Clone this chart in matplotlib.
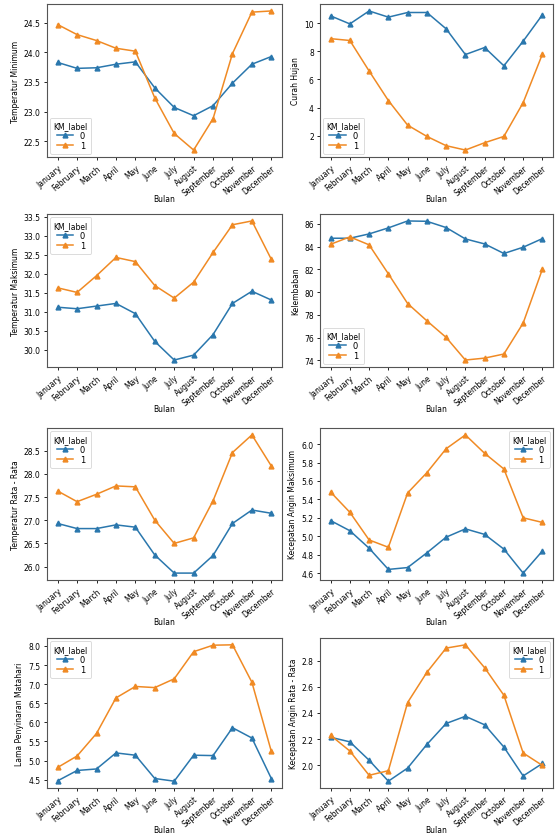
import matplotlib
matplotlib.use('Agg')
import matplotlib.pyplot as plt
from matplotlib.ticker import MultipleLocator

months = ['January', 'February', 'March', 'April', 'May', 'June', 'July',
          'August', 'September', 'October', 'November', 'December']

tmin_0 = [23.83, 23.73, 23.74, 23.80, 23.84, 23.40, 23.07, 22.93, 23.10, 23.48, 23.80, 23.93]
tmin_1 = [24.47, 24.30, 24.20, 24.07, 24.02, 23.23, 22.63, 22.35, 22.88, 23.98, 24.68, 24.70]

hujan_0 = [10.52, 9.95, 10.87, 10.43, 10.76, 10.76, 9.60, 7.77, 8.27, 6.97, 8.72, 10.60]
hujan_1 = [8.90, 8.77, 6.60, 4.50, 2.75, 1.95, 1.29, 0.98, 1.50, 1.95, 4.35, 7.80]

tmax_0 = [31.12, 31.08, 31.15, 31.22, 30.95, 30.22, 29.73, 29.86, 30.40, 31.22, 31.54, 31.31]
tmax_1 = [31.63, 31.51, 31.95, 32.43, 32.32, 31.69, 31.36, 31.78, 32.56, 33.29, 33.39, 32.38]

lembab_0 = [84.74, 84.74, 85.12, 85.65, 86.26, 86.23, 85.68, 84.68, 84.24, 83.40, 83.95, 84.71]
lembab_1 = [84.21, 84.86, 84.16, 81.61, 79.00, 77.48, 76.02, 74.03, 74.20, 74.56, 77.28, 82.02]

trata_0 = [26.93, 26.82, 26.82, 26.90, 26.85, 26.25, 25.86, 25.86, 26.24, 26.93, 27.22, 27.15]
trata_1 = [27.63, 27.40, 27.56, 27.74, 27.72, 27.00, 26.50, 26.62, 27.42, 28.46, 28.84, 28.17]

anginmax_0 = [5.17, 5.06, 4.87, 4.64, 4.66, 4.82, 4.99, 5.08, 5.02, 4.86, 4.60, 4.84]
anginmax_1 = [5.48, 5.26, 4.96, 4.88, 5.47, 5.69, 5.95, 6.10, 5.90, 5.73, 5.20, 5.15]

sinar_0 = [4.47, 4.74, 4.78, 5.20, 5.14, 4.53, 4.46, 5.14, 5.13, 5.86, 5.59, 4.53]
sinar_1 = [4.82, 5.12, 5.71, 6.64, 6.94, 6.91, 7.14, 7.85, 8.02, 8.03, 7.05, 5.24]

anginrata_0 = [2.215, 2.18, 2.04, 1.88, 1.98, 2.16, 2.32, 2.375, 2.31, 2.14, 1.92, 2.015]
anginrata_1 = [2.23, 2.11, 1.925, 1.96, 2.48, 2.71, 2.895, 2.92, 2.745, 2.535, 2.095, 2.00]


def draw(ax, s0, s1, ylabel, loc, step):
    ax.plot(months, s0, '-^', color='#2a77ad', lw=1.1, ms=3.5, label='0')
    ax.plot(months, s1, '-^', color='#f08a24', lw=1.1, ms=3.5, label='1')
    ax.yaxis.set_major_locator(MultipleLocator(step))
    ax.set_xlabel('Bulan', fontsize=5.5, labelpad=-2)
    ax.set_ylabel(ylabel, fontsize=5.5, labelpad=3)
    ax.tick_params(axis='both', labelsize=5.5, length=2.5, width=0.6, pad=2)
    plt.setp(ax.get_xticklabels(), rotation=40, ha='right', rotation_mode='anchor')
    for sp in ax.spines.values():
        sp.set_color('#555555')
        sp.set_linewidth(0.8)
    leg = ax.legend(title='KM_label', loc=loc, fontsize=6, title_fontsize=5.5,
                    borderpad=0.4, labelspacing=0.15, handlelength=2.0,
                    borderaxespad=0.4)
    leg.get_frame().set_linewidth(0.6)


def main():
    W, H = 555, 837
    fig = plt.figure(figsize=(W / 100, H / 100), dpi=100)

    def axes(x0, x1, y0, y1):
        return fig.add_axes([x0 / W, 1 - y1 / H, (x1 - x0) / W, (y1 - y0) / H])

    lx = (47, 282)
    rx = (320, 553)
    rows = [(5, 158), (215, 368), (429, 581), (639, 789)]

    panels = [
        (lx, rows[0], tmin_0, tmin_1, 'Temperatur Minimum', 'lower left', 0.5),
        (rx, rows[0], hujan_0, hujan_1, 'Curah Hujan', 'lower left', 2),
        (lx, rows[1], tmax_0, tmax_1, 'Temperatur Maksimum', 'upper left', 0.5),
        (rx, rows[1], lembab_0, lembab_1, 'Kelembaban', 'lower left', 2),
        (lx, rows[2], trata_0, trata_1, 'Temperatur Rata - Rata', 'upper left', 0.5),
        (rx, rows[2], anginmax_0, anginmax_1, 'Kecepatan Angin Maksimum', 'upper right', 0.2),
        (lx, rows[3], sinar_0, sinar_1, 'Lama Penyinaran Matahari', 'upper left', 0.5),
        (rx, rows[3], anginrata_0, anginrata_1, 'Kecepatan Angin Rata - Rata', 'upper right', 0.2),
    ]
    for (x0, x1), (y0, y1), s0, s1, lab, loc, step in panels:
        ax = axes(x0, x1, y0, y1)
        draw(ax, s0, s1, lab, loc, step)

    fig.savefig('out.png', dpi=100)


if __name__ == '__main__':
    main()
